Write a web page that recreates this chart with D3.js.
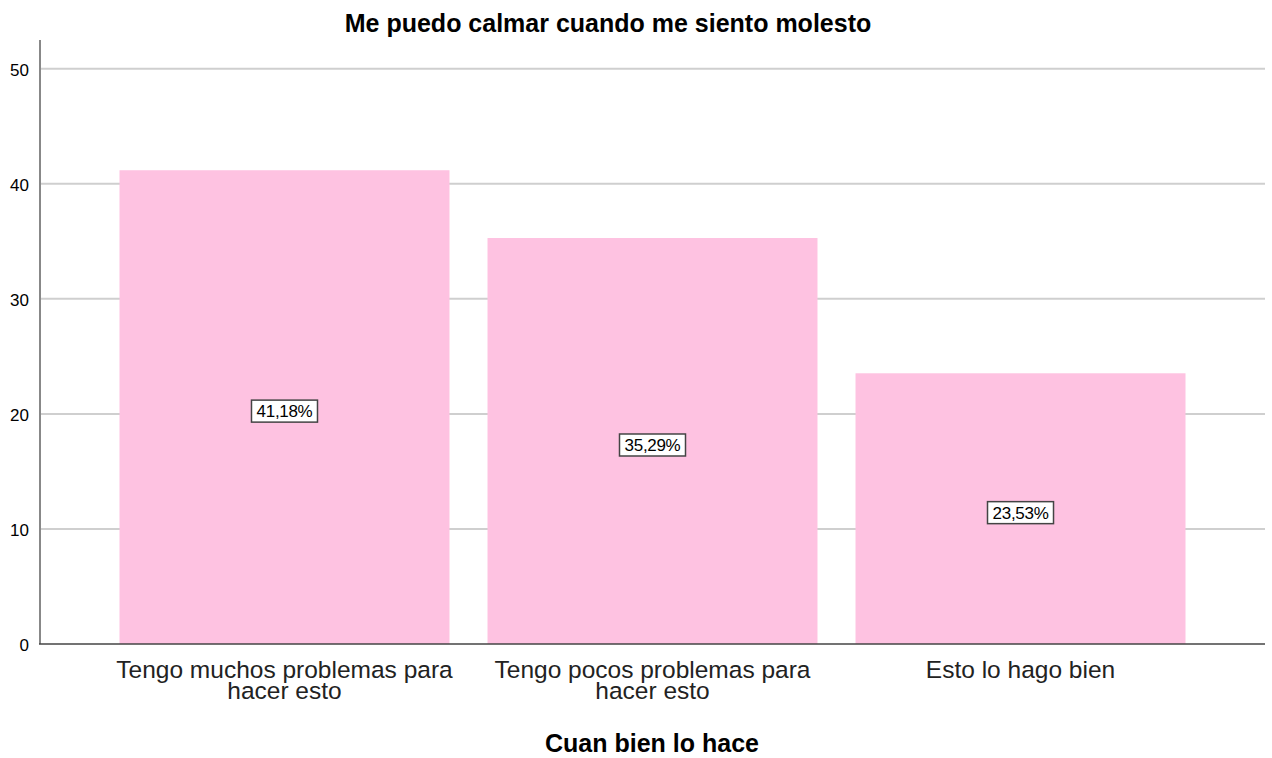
<!DOCTYPE html>
<html>
<head>
<meta charset="utf-8">
<title>Me puedo calmar cuando me siento molesto</title>
<style>
body { margin: 0; background: #fff; }
text { font-family: "Liberation Sans", Arial, sans-serif; fill: #000; }
.grid line { stroke: #cfcfcf; stroke-width: 2px; }
</style>
</head>
<body>
<script src="https://cdn.jsdelivr.net/npm/d3@7"></script>
<script>

// data
var categories = [
  ["Tengo muchos problemas para", "hacer esto"],
  ["Tengo pocos problemas para", "hacer esto"],
  ["Esto lo hago bien"]
];
var values = [41.18, 35.29, 23.53];
var labels = ["41,18%", "35,29%", "23,53%"];
var yTicks = [0, 10, 20, 30, 40, 50];

var width = 1272,
    height = 758;

var plotLeft = 40, plotRight = 1265, plotTop = 40, plotBottom = 644;

var svg = d3.select("body").append("svg")
    .attr("width", width)
    .attr("height", height);

var x = d3.scaleBand()
    .domain(d3.range(values.length))
    .range([plotLeft, plotRight])
    .paddingInner(0.1033)
    .paddingOuter(0.216);

var y = d3.scaleLinear()
    .domain([0, 52.5])
    .range([plotBottom, plotTop]);

// grid lines
svg.append("g")
    .attr("class", "grid")
    .selectAll("line")
    .data(yTicks.filter(function(d) { return d > 0; }))
    .enter().append("line")
    .attr("x1", plotLeft)
    .attr("x2", plotRight)
    .attr("y1", function(d) { return y(d); })
    .attr("y2", function(d) { return y(d); });

// bars
svg.append("g")
    .selectAll("rect")
    .data(values)
    .enter().append("rect")
    .attr("x", function(d, i) { return x(i); })
    .attr("y", function(d) { return y(d); })
    .attr("width", x.bandwidth())
    .attr("height", function(d) { return plotBottom - y(d); })
    .style("fill", "#fec2e1");

// y axis
var yAxis = svg.append("g")
    .attr("transform", "translate(" + plotLeft + ",0)")
    .call(d3.axisLeft(y).tickValues(yTicks).tickSize(0).tickPadding(11));
yAxis.attr("font-size", 17).attr("font-family", "'Liberation Sans', Arial, sans-serif");
yAxis.select(".domain").attr("stroke", "#888").attr("stroke-width", 2)
    .attr("d", "M0," + plotTop + "V" + plotBottom);
yAxis.selectAll("text")
    .style("font-size", "17px")
    .attr("fill", "#111")
    .attr("dy", "0.4em");

// x axis line
svg.append("line")
    .attr("x1", plotLeft - 1)
    .attr("x2", plotRight)
    .attr("y1", plotBottom)
    .attr("y2", plotBottom)
    .attr("stroke", "#444")
    .attr("stroke-width", 1.5);

// category labels
var cat = svg.append("g")
    .selectAll("text")
    .data(categories)
    .enter().append("text")
    .attr("text-anchor", "middle")
    .attr("x", function(d, i) { return x(i) + x.bandwidth() / 2; })
    .attr("y", 678)
    .style("font-size", "24.5px")
    .style("fill", "#222");
cat.selectAll("tspan")
    .data(function(d) { return d; })
    .enter().append("tspan")
    .attr("x", function() { return d3.select(this.parentNode).attr("x"); })
    .attr("dy", function(d, i) { return i === 0 ? 0 : 21; })
    .text(function(d) { return d; });

// value labels in boxes
var lab = svg.append("g")
    .selectAll("g")
    .data(values)
    .enter().append("g")
    .attr("transform", function(d, i) {
      return "translate(" + (x(i) + x.bandwidth() / 2) + "," + ((y(d) + plotBottom) / 2 + 4) + ")";
    });
lab.append("rect")
    .attr("x", -33)
    .attr("y", -11)
    .attr("width", 66)
    .attr("height", 22)
    .style("fill", "#fff")
    .style("stroke", "#444")
    .style("stroke-width", 1.5);
lab.append("text")
    .attr("text-anchor", "middle")
    .attr("dy", "0.36em")
    .style("font-size", "17px")
    .style("letter-spacing", "-0.3px")
    .text(function(d, i) { return labels[i]; });

// titles
svg.append("text")
    .attr("x", 608)
    .attr("y", 32)
    .attr("text-anchor", "middle")
    .style("font-size", "25px")
    .style("font-weight", "bold")
    .text("Me puedo calmar cuando me siento molesto");

svg.append("text")
    .attr("x", 652)
    .attr("y", 752)
    .attr("text-anchor", "middle")
    .style("font-size", "25px")
    .style("font-weight", "bold")
    .text("Cuan bien lo hace");

</script>
</body>
</html>
